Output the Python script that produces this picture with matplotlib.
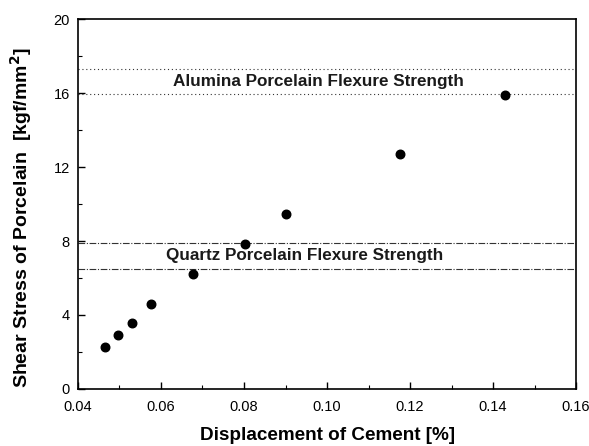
import matplotlib
matplotlib.use("Agg")
import matplotlib.pyplot as plt
from matplotlib.ticker import MultipleLocator

plt.rcParams['font.family'] = ['Liberation Sans', 'DejaVu Sans']

# measured points
displacement = [0.0466, 0.0497, 0.0530, 0.0576, 0.0676, 0.0802, 0.0901, 0.1177, 0.1430]
shear_stress = [2.29, 2.92, 3.58, 4.58, 6.20, 7.84, 9.48, 12.72, 15.91]

# flexure strength bands (lower, upper)
alumina_band = [15.93, 17.28]
quartz_band = [6.47, 7.91]

fig = plt.figure(figsize=(5.89, 4.46), dpi=100)
ax = fig.add_axes([0.1324, 0.128, 0.8456, 0.829])

ax.scatter(displacement, shear_stress, s=38, color='black', zorder=3)

for yv in alumina_band:
    ax.axhline(yv, color='#333333', lw=0.8, ls=(0, (1, 2.5)))
for yv in quartz_band:
    ax.axhline(yv, color='#333333', lw=0.8, ls=(0, (6, 1.5, 1, 1.5)))

ax.text(0.0980, 16.62, 'Alumina Porcelain Flexure Strength', ha='center', va='center',
        fontsize=12.3, fontweight='bold', color='#1a1a1a')
ax.text(0.0946, 7.2, 'Quartz Porcelain Flexure Strength', ha='center', va='center',
        fontsize=12.3, fontweight='bold', color='#1a1a1a')

ax.set_xlim(0.04, 0.16)
ax.set_ylim(0, 20)
ax.xaxis.set_major_locator(MultipleLocator(0.02))
ax.xaxis.set_minor_locator(MultipleLocator(0.01))
ax.yaxis.set_major_locator(MultipleLocator(4))
ax.yaxis.set_minor_locator(MultipleLocator(2))
ax.set_xticklabels([f'{v:.2f}' for v in ax.get_xticks()])
ax.set_yticklabels([f'{int(v)}' for v in ax.get_yticks()])

ax.tick_params(which='both', direction='in', top=False, right=False, labelsize=10.5)
ax.tick_params(axis='x', which='major', pad=8)
ax.tick_params(axis='y', which='major', pad=6)
ax.tick_params(which='major', length=5, width=1)
ax.tick_params(which='minor', length=3, width=0.8)
for s in ax.spines.values():
    s.set_linewidth(1.2)

ax.set_xlabel('Displacement of Cement [%]', fontsize=13.6, fontweight='bold', labelpad=9)
ax.set_ylabel('Shear Stress of Porcelain  [kgf/mm$^\\mathbf{2}$]', fontsize=14,
              fontweight='bold')
ax.yaxis.set_label_coords(-0.089, 0.462)

fig.savefig('out.png', dpi=100)
